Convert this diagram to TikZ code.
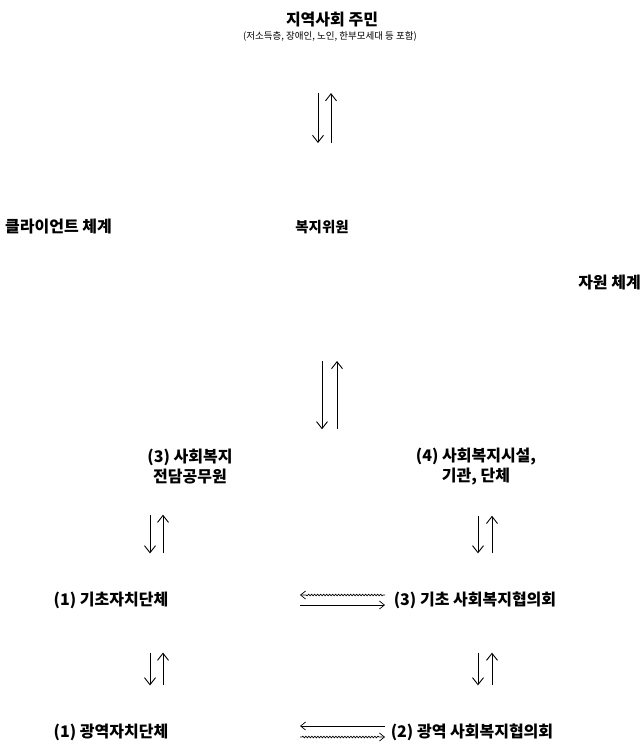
\documentclass[tikz,border=0pt]{standalone}
\usepackage{fontspec}
\newfontfamily\kr{Noto Sans CJK KR}
\usetikzlibrary{arrows.meta,decorations.pathmorphing,calc}
\tikzset{
  lbl/.style={font=\kr\bfseries\fontsize{16}{20}\selectfont, inner sep=1pt, align=center},
  note/.style={font=\kr\fontsize{9.5}{11}\selectfont, inner sep=1pt},
  varr/.style={-{Straight Barb[length=7pt,width=11pt]}, line width=0.9pt},
  harr/.style={-{Straight Barb[length=5pt,width=8pt]}, line width=0.7pt},
  wavy/.style={harr, decorate, decoration={snake, amplitude=0.8pt, segment length=3pt, pre length=2pt, post length=6pt}}
}
\begin{document}
\begin{tikzpicture}[x=1pt,y=-1pt]
\useasboundingbox (0,0) rectangle (644,750);

% community
\node[lbl] (res) at (332,20) {지역사회 주민};
\node[note] (resnote) at (330,36) {(저소득층, 장애인, 노인, 한부모세대 등 포함)};

% middle layer
\node[lbl, anchor=west] (cli) at (4,227) {클라이언트 체계};
\node[lbl, font=\kr\bfseries\fontsize{14.5}{18}\selectfont] (com) at (322,227) {복지위원};
\node[lbl, anchor=east] (rsc) at (642,283) {자원 체계};

% officials and facilities
\node[lbl] (off) at (190,467) {(3) 사회복지\\전담공무원};
\node[lbl] (fac) at (476,467) {(4) 사회복지시설,\\기관, 단체};

% local level
\node[lbl] (loc) at (111,600) {(1) 기초자치단체};
\node[lbl] (lcw) at (475,600) {(3) 기초 사회복지협의회};

% regional level
\node[lbl] (reg) at (111,732) {(1) 광역자치단체};
\node[lbl] (rcw) at (472,732) {(2) 광역 사회복지협의회};

% residents <-> community
\draw[varr, shorten <=51pt, shorten >=76pt]
  ([xshift=-12pt]resnote.south) -- ([xshift=-12pt]resnote.south |- com.north);
\draw[varr, shorten <=76pt, shorten >=51pt]
  ([xshift=1pt]resnote.south |- com.north) -- ([xshift=1pt]resnote.south);

% community <-> officials / facilities
\draw[varr, shorten <=126pt, shorten >=19pt]
  (com.south) -- (com.south |- off.north);
\draw[varr, shorten <=19pt, shorten >=126pt]
  ([xshift=15pt]com.south |- off.north) -- ([xshift=15pt]com.south);

% officials <-> local
\draw[varr, shorten <=29pt, shorten >=37pt]
  ([xshift=-40pt]off.south) -- ([xshift=-40pt]off.south |- loc.north);
\draw[varr, shorten <=37pt, shorten >=29pt]
  ([xshift=-27pt]off.south |- loc.north) -- ([xshift=-27pt]off.south);

% facilities <-> local welfare council
\draw[varr, shorten <=29pt, shorten >=37pt]
  ([xshift=2pt]fac.south) -- ([xshift=2pt]fac.south |- lcw.north);
\draw[varr, shorten <=37pt, shorten >=29pt]
  ([xshift=16pt]fac.south |- lcw.north) -- ([xshift=16pt]fac.south);

% local <-> regional
\draw[varr, shorten <=43pt, shorten >=37pt]
  ([xshift=39pt]loc.south) -- ([xshift=39pt]loc.south |- reg.north);
\draw[varr, shorten <=37pt, shorten >=43pt]
  ([xshift=52pt]loc.south |- reg.north) -- ([xshift=52pt]loc.south);
\draw[varr, shorten <=43pt, shorten >=37pt]
  ([xshift=3pt]lcw.south) -- ([xshift=3pt]lcw.south |- rcw.north);
\draw[varr, shorten <=37pt, shorten >=43pt]
  ([xshift=17pt]lcw.south |- rcw.north) -- ([xshift=17pt]lcw.south);

% horizontal links: leftward above, rightward below
\draw[wavy] ([yshift=5pt]lcw.west -| 385,0) -- ([yshift=5pt]loc.east -| 300,0);
\draw[harr] ([yshift=-5pt]loc.east -| 300,0) -- ([yshift=-5pt]lcw.west -| 385,0);
\draw[harr] ([yshift=6pt]rcw.west -| 385,0) -- ([yshift=6pt]reg.east -| 300,0);
\draw[wavy] ([yshift=-5pt]reg.east -| 300,0) -- ([yshift=-5pt]rcw.west -| 385,0);
\end{tikzpicture}
\end{document}
